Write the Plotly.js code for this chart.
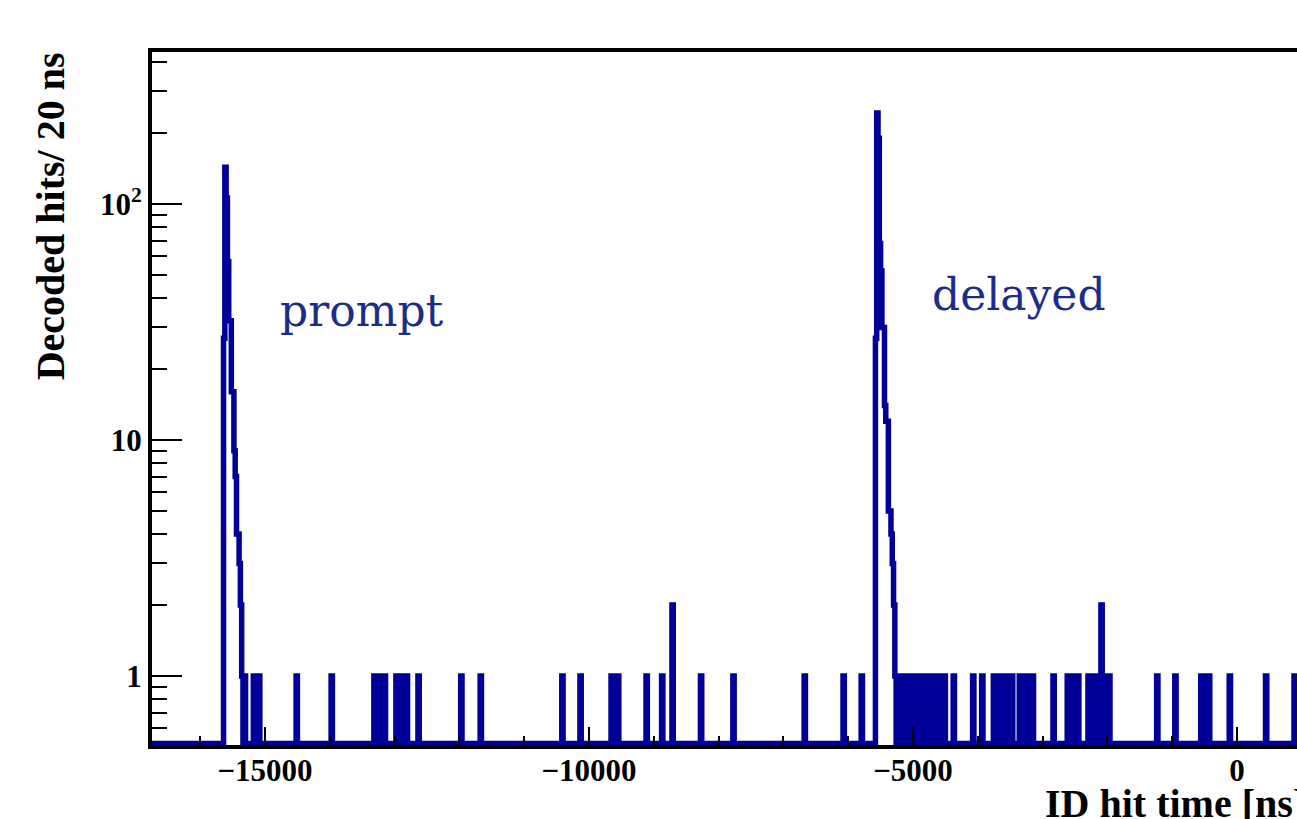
<!DOCTYPE html>
<html><head><meta charset="utf-8">
<script src="https://cdn.plot.ly/plotly-3.0.1.min.js"></script>
<style>html,body{margin:0;padding:0;background:#fff;overflow:hidden}#chart{width:1297px;height:819px}</style>
</head><body><div id="chart"></div>
<script>
// ---- data ----
const BIN_WIDTH = 20; // ns per bin
const promptPeakStart = -15640;
const promptPeakCounts = [27, 143, 106, 57, 32, 32, 16, 16, 9, 7, 4, 4, 3, 2];
const delayedPeakStart = -5580;
const delayedPeakCounts = [27, 243, 190, 68, 52, 30, 30, 14, 12, 12, 5, 5, 4, 3, 2];
const doubleHitBins = [-8720, -2100];
const singleHitBins = [
  -15360, -15320,
  -15180, -15140, -15100,
  -14520, -13980,
  -13320, -13280, -13240, -13200, -13160,
  -12980, -12940, -12900, -12860, -12820,
  -12640, -11980, -11680, -10420, -10140,
  -9660, -9620, -9560,
  -9120, -8880,
  -8280, -7780, -6680, -6080, -5800,
  -5280, -5240, -5200, -5160, -5120, -5080, -5040, -5000, -4960, -4920,
  -4880, -4840, -4800, -4760, -4720, -4680, -4640, -4600, -4560, -4520,
  -4380, -4080, -3940,
  -3760, -3720, -3680, -3640, -3600, -3560, -3520, -3480,
  -3360, -3320, -3280, -3240, -3200, -3160,
  -2840,
  -2620, -2580, -2540, -2500, -2460,
  -2300, -2260, -2220, -2180, -2140, -2060, -2020, -1980,
  -1240, -960,
  -560, -520, -480, -440,
  -120, 440, 880
];
const xRange = [-16744, 926];
const yRangeLog = [-0.292, 2.644];
const xTickVals = [-15000, -10000, -5000, 0];
const xTickText = ['\u221215000', '\u221210000', '\u22125000', '0'];
const yTickVals = [1, 10, 100];
const yTickText = ['1', '10', '10<sup>2</sup>'];
const yMinorVals = [0.6, 0.7, 0.8, 0.9, 2, 3, 4, 5, 6, 7, 8, 9, 20, 30, 40, 50, 60, 70, 80, 90, 200, 300, 400];

// ---- build histogram bins ----
const counts = new Map();
promptPeakCounts.forEach((c, i) => counts.set(promptPeakStart + i * BIN_WIDTH, c));
delayedPeakCounts.forEach((c, i) => counts.set(delayedPeakStart + i * BIN_WIDTH, c));
singleHitBins.forEach(b => counts.set(b, 1));
doubleHitBins.forEach(b => counts.set(b, 2));

const floorVal = Math.pow(10, yRangeLog[0] + 0.006); // empty bins drawn along the frame bottom
const histStart = Math.floor(xRange[0] / BIN_WIDTH) * BIN_WIDTH;
const histEnd = Math.ceil(xRange[1] / BIN_WIDTH) * BIN_WIDTH;
const hx = [], hy = [];
for (let b = histStart; b <= histEnd; b += BIN_WIDTH) {
  const c = counts.get(b) || 0;
  hx.push(b);
  hy.push(c > 0 ? c : floorVal);
}

const serif = 'Liberation Serif, Times New Roman, serif';
const trace = {
  type: 'scatter', mode: 'lines', x: hx, y: hy,
  line: {color: '#000099', width: 5.5, shape: 'hv'},
  hoverinfo: 'skip', showlegend: false
};

const layout = {
  width: 1297, height: 819,
  margin: {l: 152, r: 0, t: 52, b: 74, pad: 0},
  paper_bgcolor: '#ffffff', plot_bgcolor: '#ffffff',
  showlegend: false,
  xaxis: {
    range: xRange, showgrid: false, zeroline: false,
    showline: true, linecolor: '#000', linewidth: 4, mirror: true,
    ticks: 'inside', ticklen: 18, tickwidth: 2, tickcolor: '#000',
    tickmode: 'array', tickvals: xTickVals, ticktext: xTickText,
    ticklabelstandoff: -5,
    minor: {ticks: 'inside', ticklen: 9, tickwidth: 2, tickcolor: '#000', dtick: 1000, tick0: 0, showgrid: false},
    tickfont: {family: serif, size: 31, color: '#000', weight: 'bold'}
  },
  yaxis: {
    type: 'log', range: yRangeLog, showgrid: false, zeroline: false,
    showline: true, linecolor: '#000', linewidth: 4, mirror: false,
    ticks: 'inside', ticklen: 30, tickwidth: 2, tickcolor: '#000',
    tickmode: 'array', tickvals: yTickVals, ticktext: yTickText,
    minor: {ticks: 'inside', ticklen: 15, tickwidth: 2, tickcolor: '#000', tickmode: 'array', tickvals: yMinorVals, showgrid: false},
    tickfont: {family: serif, size: 31, color: '#000', weight: 'bold'}
  },
  annotations: [
    {text: '<b>Decoded hits/ 20 ns</b>', xref: 'paper', yref: 'paper', x: -0.089, y: 0.763,
     xanchor: 'center', yanchor: 'middle', textangle: -90, showarrow: false,
     font: {family: serif, size: 40, color: '#000'}},
    {text: '<b>ID hit time [ns]</b>', xref: 'paper', yref: 'paper', x: 0.778, y: -0.085,
     xanchor: 'left', yanchor: 'middle', showarrow: false,
     font: {family: serif, size: 40, color: '#000'}},
    {text: 'prompt', xref: 'paper', yref: 'paper', x: (278 - 152) / 1145, y: (745 - 310) / 693,
     xanchor: 'left', yanchor: 'middle', showarrow: false,
     font: {family: 'DejaVu Serif, serif', size: 44, color: '#1a2d8a'}},
    {text: 'delayed', xref: 'paper', yref: 'paper', x: (930 - 152) / 1145, y: (745 - 294) / 693,
     xanchor: 'left', yanchor: 'middle', showarrow: false,
     font: {family: 'DejaVu Serif, serif', size: 44, color: '#1a2d8a'}}
  ]
};

Plotly.newPlot('chart', [trace], layout, {displayModeBar: false, staticPlot: true});
</script>
</body></html>
